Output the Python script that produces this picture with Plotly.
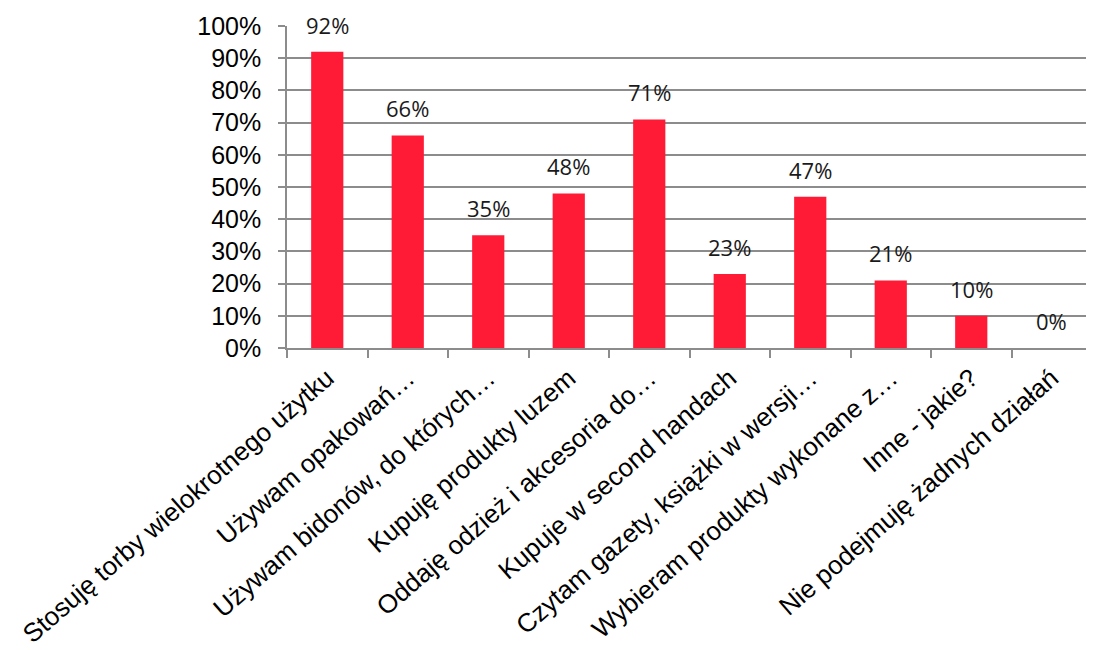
import plotly.graph_objects as go

categories = [
    "Stosuję torby wielokrotnego użytku",
    "Używam opakowań…",
    "Używam bidonów, do których…",
    "Kupuję produkty luzem",
    "Oddaję odzież i akcesoria do…",
    "Kupuje w second handach",
    "Czytam gazety, książki w wersji…",
    "Wybieram produkty wykonane z…",
    "Inne - jakie?",
    "Nie podejmuję żadnych działań",
]
values = [0.92, 0.66, 0.35, 0.48, 0.71, 0.23, 0.47, 0.21, 0.10, 0.0]
labels = ["92%", "66%", "35%", "48%", "71%", "23%", "47%", "21%", "10%", "0%"]
y_ticks = [i / 10 for i in range(11)]
y_tick_text = [f"{i*10}%" for i in range(11)]

BAR = "#FF1A35"
GRID = "#8C8C8C"

fig = go.Figure()
fig.add_trace(go.Bar(x=categories, y=values, marker=dict(color=BAR, line=dict(width=0)),
                     hoverinfo="skip"))

for c, v, t in zip(categories, values, labels):
    fig.add_annotation(x=c, y=v, text=t, showarrow=False, yanchor="middle", yshift=27,
                       font=dict(family="Open Sans, Noto Sans, sans-serif", size=22, color="#1a1a1a"))

fig.update_layout(
    width=1086, height=642,
    margin=dict(l=279, r=2, t=18, b=302),
    paper_bgcolor="white", plot_bgcolor="white",
    bargap=0.6, showlegend=False,
    font=dict(family="Liberation Sans, Arial, sans-serif", size=25, color="black"),
)
fig.update_xaxes(
    type="category", tickangle=-41, tickson="boundaries",
    ticks="outside", ticklen=8, tickcolor=GRID, tickwidth=1.5,
    showline=True, linecolor=GRID, linewidth=1.5,
    showgrid=False, tickfont=dict(size=26, color="black"),
    ticklabelstandoff=3,
    range=[-0.5, 9.5], automargin=False,
)
fig.update_yaxes(
    range=[0, 1.0], tickvals=y_ticks, ticktext=y_tick_text,
    ticks="outside", ticklen=7, tickcolor=GRID, tickwidth=1.5,
    showline=True, linecolor=GRID, linewidth=1.5,
    showgrid=True, gridcolor=GRID, gridwidth=1.5,
    ticklabelstandoff=12,
    zeroline=False, tickfont=dict(size=25, color="black"), automargin=False,
)

fig.write_html("out.html")
